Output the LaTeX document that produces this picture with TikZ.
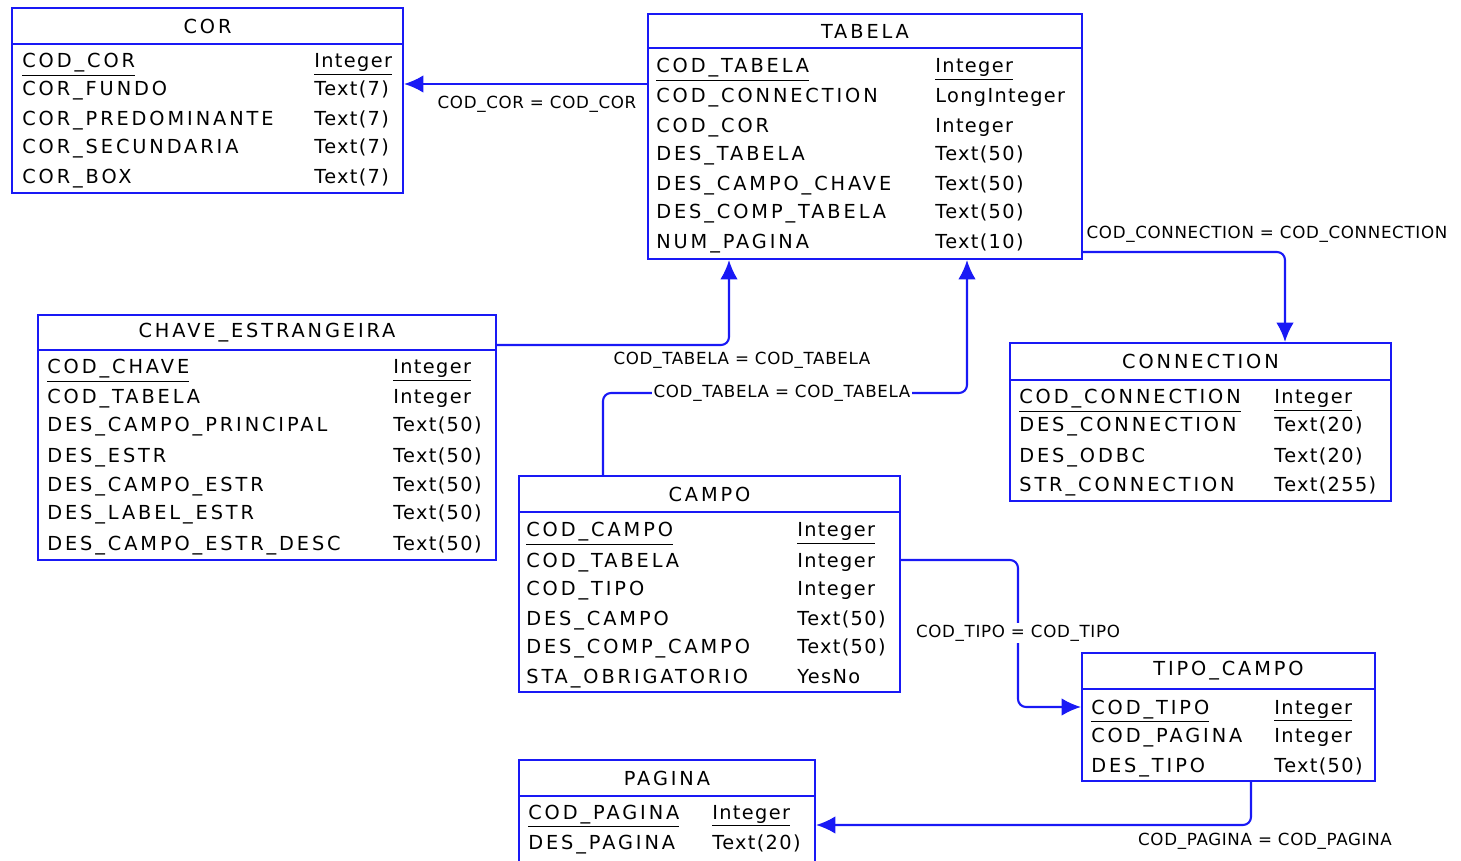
\documentclass[tikz,border=0pt]{standalone}
\usepackage{fontspec}
\newfontfamily\tabfont{DejaVu Sans}[LetterSpace=15]
\newfontfamily\tipofont{DejaVu Sans}[LetterSpace=7]
\newfontfamily\rotfont{DejaVu Sans}[LetterSpace=4]
\usetikzlibrary{arrows.meta}

\definecolor{azul}{RGB}{25,25,245}

\tikzset{
  tabbox/.style={draw=azul, line width=1.2pt, inner sep=0pt},
  titulo/.style={inner sep=0pt, font=\tabfont\fontsize{11}{13}\selectfont},
  campo/.style={anchor=base west, inner sep=0pt, font=\tabfont\fontsize{11}{13}\selectfont},
  tipo/.style={campo, font=\tipofont\fontsize{11}{13}\selectfont},
  rel/.style={draw=azul, line width=1.2pt, rounded corners=0.16cm, -{Latex[length=11pt,width=10pt]}},
  rotulo/.style={inner sep=1pt, font=\rotfont\fontsize{9.5}{11}\selectfont}
}

% tabela: nome, x1, y1, x2, y2, linha do titulo, titulo
\newcommand{\entidade}[7]{%
  \node[tabbox, minimum width={(#4-#2)*0.02cm}, minimum height={(#5-#3)*0.02cm}] (#1) at ({(#2+#4)/2},{(#3+#5)/2}) {};
  \draw[azul, line width=1.2pt] (#2,#6) -- (#4,#6);
  \node[titulo] (#1-tit) at ({(#2+#4)/2},{(#3+#6)/2}) {#7};
}
% atributo: nome, x, y, texto, x do tipo, tipo
\newcommand{\atributo}[6]{%
  \node[campo] (#1) at (#2,{#3+7}) {#4};
  \node[tipo] (#1-t) at (#5,{#3+7}) {#6};
}

\begin{document}
\begin{tikzpicture}[x=0.02cm, y=-0.02cm]
  \useasboundingbox (0,0) rectangle (1461,861);

  %	COR
  \entidade{cor}{12}{8}{403}{193}{44}{COR}
  \atributo{cor1}{22}{61}{\underline{COD\_COR}}{314}{\underline{Integer}}
  \atributo{cor2}{22}{89}{COR\_FUNDO}{314}{Text(7)}
  \atributo{cor3}{22}{119}{COR\_PREDOMINANTE}{314}{Text(7)}
  \atributo{cor4}{22}{147}{COR\_SECUNDARIA}{314}{Text(7)}
  \atributo{cor5}{22}{177}{COR\_BOX}{314}{Text(7)}

  %	TABELA
  \entidade{tabela}{648}{14}{1082}{259}{48}{TABELA}
  \atributo{tab1}{656}{66}{\underline{COD\_TABELA}}{935}{\underline{Integer}}
  \atributo{tab2}{656}{96}{COD\_CONNECTION}{935}{LongInteger}
  \atributo{tab3}{656}{126}{COD\_COR}{935}{Integer}
  \atributo{tab4}{656}{154}{DES\_TABELA}{935}{Text(50)}
  \atributo{tab5}{656}{184}{DES\_CAMPO\_CHAVE}{935}{Text(50)}
  \atributo{tab6}{656}{212}{DES\_COMP\_TABELA}{935}{Text(50)}
  \atributo{tab7}{656}{242}{NUM\_PAGINA}{935}{Text(10)}

  %	CHAVE_ESTRANGEIRA
  \entidade{chave}{38}{315}{496}{560}{350}{CHAVE\_ESTRANGEIRA}
  \atributo{ch1}{47}{367}{\underline{COD\_CHAVE}}{393}{\underline{Integer}}
  \atributo{ch2}{47}{397}{COD\_TABELA}{393}{Integer}
  \atributo{ch3}{47}{425}{DES\_CAMPO\_PRINCIPAL}{393}{Text(50)}
  \atributo{ch4}{47}{455}{DES\_ESTR}{393}{Text(50)}
  \atributo{ch5}{47}{485}{DES\_CAMPO\_ESTR}{393}{Text(50)}
  \atributo{ch6}{47}{513}{DES\_LABEL\_ESTR}{393}{Text(50)}
  \atributo{ch7}{47}{543}{DES\_CAMPO\_ESTR\_DESC}{393}{Text(50)}

  %	CONNECTION
  \entidade{connection}{1010}{343}{1391}{501}{380}{CONNECTION}
  \atributo{con1}{1019}{397}{\underline{COD\_CONNECTION}}{1274}{\underline{Integer}}
  \atributo{con2}{1019}{425}{DES\_CONNECTION}{1274}{Text(20)}
  \atributo{con3}{1019}{455}{DES\_ODBC}{1274}{Text(20)}
  \atributo{con4}{1019}{485}{STR\_CONNECTION}{1274}{Text(255)}

  %	CAMPO
  \entidade{campo}{519}{476}{900}{692}{512}{CAMPO}
  \atributo{cp1}{526}{530}{\underline{COD\_CAMPO}}{797}{\underline{Integer}}
  \atributo{cp2}{526}{560}{COD\_TABELA}{797}{Integer}
  \atributo{cp3}{526}{588}{COD\_TIPO}{797}{Integer}
  \atributo{cp4}{526}{618}{DES\_CAMPO}{797}{Text(50)}
  \atributo{cp5}{526}{646}{DES\_COMP\_CAMPO}{797}{Text(50)}
  \atributo{cp6}{526}{676}{STA\_OBRIGATORIO}{797}{YesNo}

  %	TIPO_CAMPO
  \entidade{tipo}{1082}{653}{1375}{781}{689}{TIPO\_CAMPO}
  \atributo{tp1}{1091}{707}{\underline{COD\_TIPO}}{1274}{\underline{Integer}}
  \atributo{tp2}{1091}{735}{COD\_PAGINA}{1274}{Integer}
  \atributo{tp3}{1091}{765}{DES\_TIPO}{1274}{Text(50)}

  %	PAGINA (cut by the lower edge)
  \entidade{pagina}{519}{760}{815}{880}{796}{PAGINA}
  \atributo{pg1}{528}{812}{\underline{COD\_PAGINA}}{712}{\underline{Integer}}
  \atributo{pg2}{528}{842}{DES\_PAGINA}{712}{Text(20)}

  %	Relationships
  \draw[rel] (tabela.west |- 0,84) -- (cor.east |- 0,84);
  \node[rotulo] (r1) at (537,104) {COD\_COR = COD\_COR};

  \draw[rel] (chave.east |- 0,345) -| (tabela.south -| 729,0);
  \node[rotulo] (r2) at (742,360) {COD\_TABELA = COD\_TABELA};

  \coordinate (c3) at (967,393);
  \draw[rel] (campo.north -| 603,0) |- (c3) -- (tabela.south -| c3);
  \node[rotulo, fill=white] (r3) at (782,393) {COD\_TABELA = COD\_TABELA};

  \draw[rel] (tabela.east |- 0,252) -| (connection.north -| 1285,0);
  \node[rotulo] (r4) at (1267,234) {COD\_CONNECTION = COD\_CONNECTION};

  \coordinate (c5) at (1018,633);
  \draw[rel] (campo.east |- 0,560) -| (c5) |- (tipo.west |- 0,707);
  \node[rotulo, fill=white] (r5) at (c5) {COD\_TIPO = COD\_TIPO};

  \draw[rel] (tipo.south -| 1251,0) |- (pagina.east |- 0,825);
  \node[rotulo] (r6) at (1265,841) {COD\_PAGINA = COD\_PAGINA};
\end{tikzpicture}
\end{document}
